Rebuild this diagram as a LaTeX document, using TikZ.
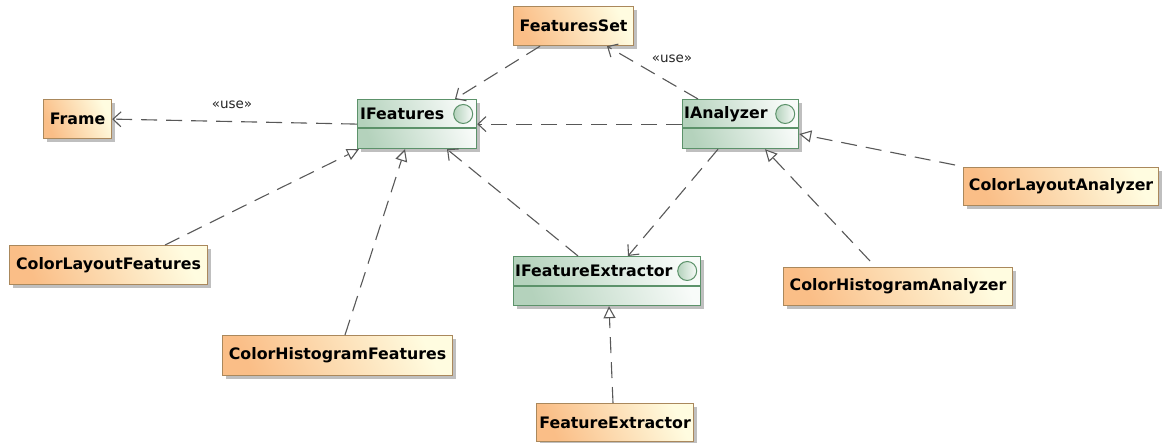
\documentclass[tikz,border=0pt]{standalone}
\usepackage{fontspec}
\setmainfont{DejaVu Sans}
\usetikzlibrary{arrows.meta,shadows,calc}

\definecolor{classL}{RGB}{250,190,135}
\definecolor{classR}{RGB}{255,252,224}
\definecolor{classBorder}{RGB}{170,136,92}
\definecolor{ifaceL}{RGB}{180,210,188}
\definecolor{ifaceR}{RGB}{248,251,249}
\definecolor{ifaceBorder}{RGB}{92,146,106}
\definecolor{wire}{RGB}{88,88,88}

\newcommand\boxfont{\fontsize{15.8}{18}\selectfont\bfseries}
\newcommand\stereofont{\fontsize{13.5}{15}\selectfont}

\tikzset{
  x=1pt, y=-1pt,
  boxshadow/.style={drop shadow={shadow xshift=3pt, shadow yshift=-3pt, fill=black, opacity=0.25}},
  classbox/.style={rectangle, draw=classBorder, line width=1.2pt, inner sep=0pt,
    anchor=north west, font=\boxfont, boxshadow,
    bottom color=classL, top color=classR, shading angle=-65},
  ifacebox/.style={rectangle, draw=ifaceBorder, line width=1.2pt, inner sep=0pt,
    anchor=north west, boxshadow,
    bottom color=ifaceL, top color=ifaceR, shading angle=-70},
  ifacename/.style={anchor=west, inner sep=0pt, font=\boxfont},
  lollipop/.style={circle, draw=ifaceBorder, line width=1pt, minimum size=19pt,
    inner sep=0pt, left color=ifaceL, right color=ifaceR},
  divider/.style={draw=ifaceBorder, line width=1.2pt},
  wirebase/.style={draw=wire, line width=1.1pt, dash pattern=on 16pt off 9pt},
  dependency/.style={wirebase, -{Straight Barb[length=8pt, width=15pt, line width=1.1pt]}},
  realization/.style={wirebase, -{Triangle[open, length=12pt, width=12pt, line width=1.1pt, fill=white]}},
  stereo/.style={inner sep=1pt, font=\stereofont, text=black!85}
}

\begin{document}
\begin{tikzpicture}
\useasboundingbox (0,0) rectangle (1162,443);

% classes
\node[classbox, minimum width=120pt, minimum height=39pt] (fs) at (513,6) {FeaturesSet};
\node[classbox, minimum width=68pt, minimum height=39pt] (frame) at (43,99) {Frame};
\node[classbox, minimum width=198pt, minimum height=39pt] (clf) at (9,245) {ColorLayoutFeatures};
\node[classbox, minimum width=230pt, minimum height=40pt] (chf) at (222,335) {ColorHistogramFeatures};
\node[classbox, minimum width=157pt, minimum height=38pt] (fx) at (536,403) {FeatureExtractor};
\node[classbox, minimum width=195pt, minimum height=38pt] (cla) at (963,167) {ColorLayoutAnalyzer};
\node[classbox, minimum width=229pt, minimum height=38pt] (cha) at (783,267) {ColorHistogramAnalyzer};

% interfaces
\node[ifacebox, minimum width=119pt, minimum height=49pt] (ifeat) at (357,99) {};
\draw[divider] ($(ifeat.north west)+(0,29)$) -- ($(ifeat.north east)+(0,29)$);
\node[ifacename] (ifeat-name) at ($(ifeat.north west)+(3,15)$) {IFeatures};
\node[lollipop] (ifeat-ball) at ($(ifeat.north east)+(-14,15)$) {};

\node[ifacebox, minimum width=116pt, minimum height=49pt] (ian) at (682,99) {};
\draw[divider] ($(ian.north west)+(0,29)$) -- ($(ian.north east)+(0,29)$);
\node[ifacename] (ian-name) at ($(ian.north west)+(2,15)$) {IAnalyzer};
\node[lollipop] (ian-ball) at ($(ian.north east)+(-14,15)$) {};

\node[ifacebox, minimum width=187pt, minimum height=49pt] (ifx) at (513,256) {};
\draw[divider] ($(ifx.north west)+(0,30)$) -- ($(ifx.north east)+(0,30)$);
\node[ifacename] (ifx-name) at ($(ifx.north west)+(2,15)$) {IFeatureExtractor};
\node[lollipop] (ifx-ball) at ($(ifx.north east)+(-14,15)$) {};

% dependencies
\draw[dependency] ($(fs.south west)+(27,0)$) -- ($(ifeat.north west)+(98,0)$);
\draw[dependency] ($(ian.north west)+(16,0)$) -- ($(fs.south west)+(94,0)$);
\node[stereo] (use-fs) at (672,59) {«use»};
\draw[dependency] (ian.west) -- (ifeat.east);
\draw[dependency] (ifeat.west) -- (frame.east);
\node[stereo] (use-frame) at (232,105) {«use»};
\draw[dependency] ($(ifx.north west)+(65,0)$) -- ($(ifeat.south west)+(90,0)$);
\draw[dependency] ($(ian.south west)+(36,0)$) -- ($(ifx.north west)+(115,0)$);

% realizations
\draw[realization] ($(clf.north west)+(156,0)$) -- ($(ifeat.south west)+(2,0)$);
\draw[realization] ($(chf.north west)+(123,0)$) -- ($(ifeat.south west)+(48,0)$);
\draw[realization] ($(fx.north west)+(77,0)$) -- ($(ifx.south west)+(96,0)$);
\draw[realization] ($(cha.north west)+(87,-6)$) -- ($(ian.south west)+(83,0)$);
\draw[realization] ($(cla.north west)+(-8,-2)$) -- ($(ian.north east)+(0,35)$);
\end{tikzpicture}
\end{document}
